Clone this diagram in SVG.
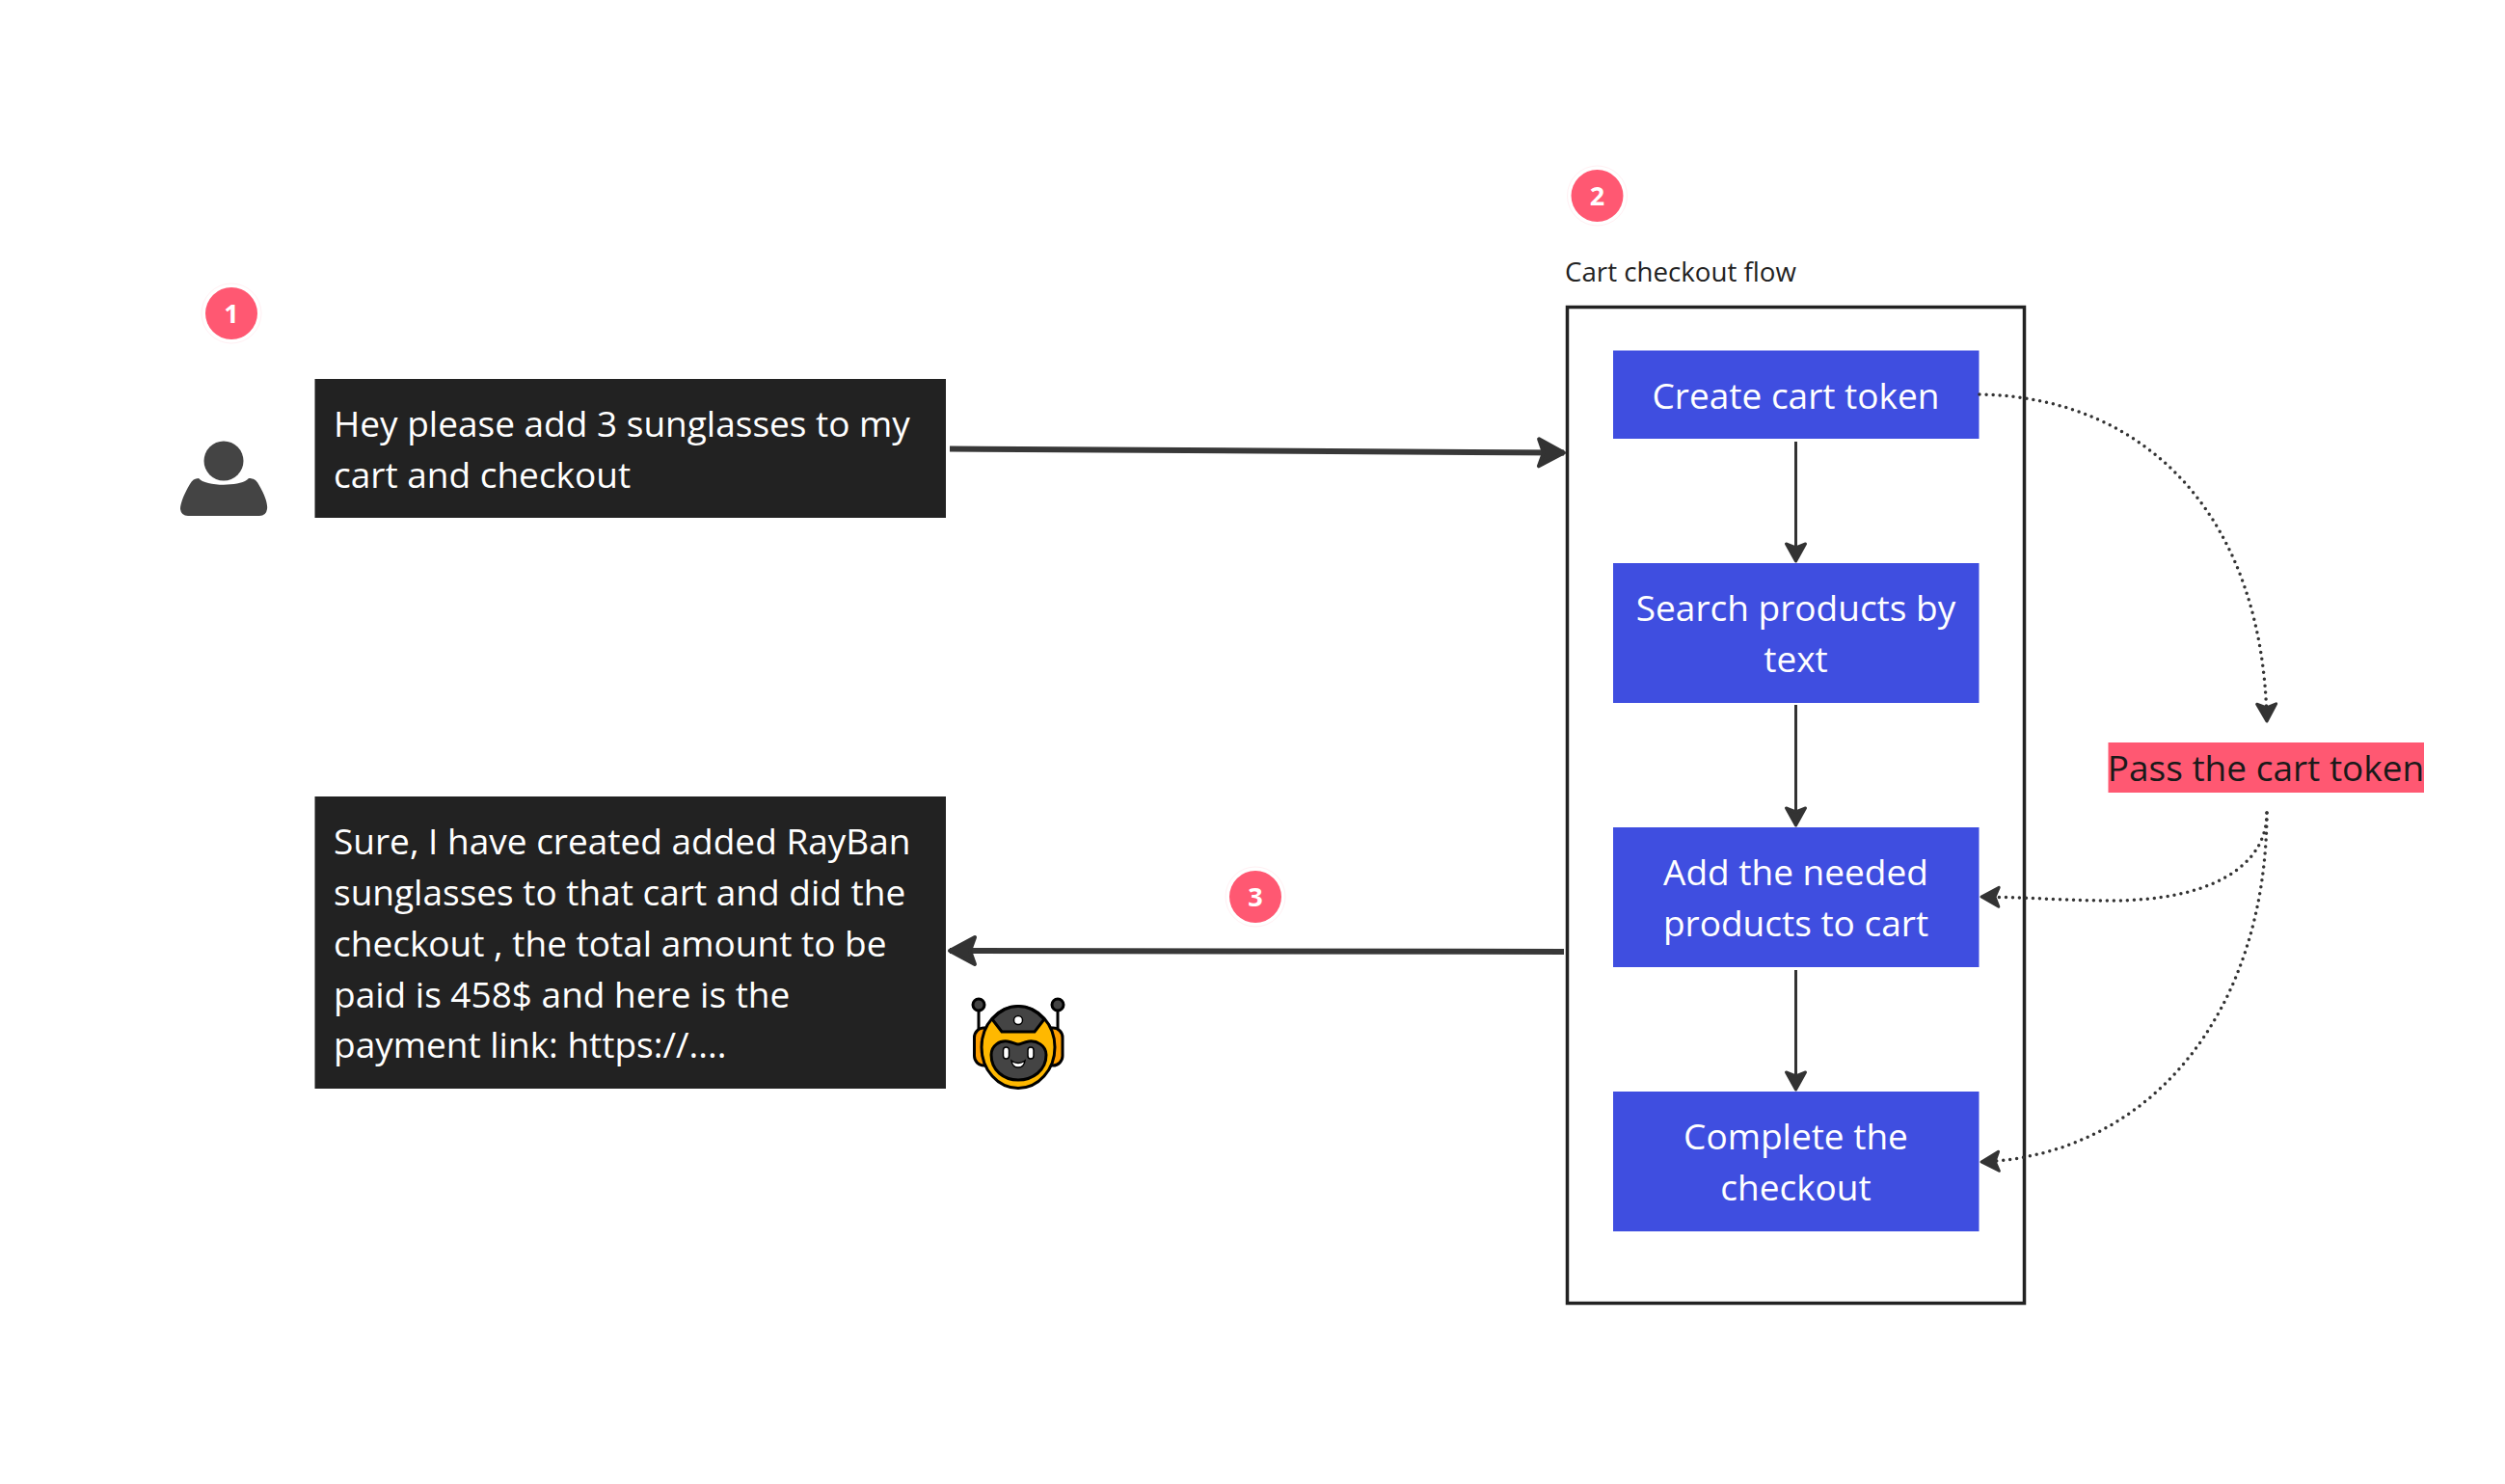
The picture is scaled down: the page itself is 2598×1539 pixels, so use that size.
<svg xmlns="http://www.w3.org/2000/svg" width="2598" height="1539" viewBox="0 0 2598 1539">
<style>
text{font-family:"Open Sans","Noto Sans","Liberation Sans",sans-serif}
.t{font-size:37px;fill:#fff}
.dark{fill:#222222}
.blue{fill:#3f4ee0}
.c{text-anchor:middle}
.badge-ring{fill:#fff;stroke:#fff0f3;stroke-width:1}
.badge{fill:#ff5872}
.num{font-size:27px;font-weight:700;fill:#fff;text-anchor:middle}
.main{fill:none;stroke:#383838;stroke-width:6}
.thin{fill:none;stroke:#333;stroke-width:3}
.dot{fill:none;stroke:#333;stroke-width:3.5;stroke-linecap:round;stroke-dasharray:0 7}
.ol{stroke:#000;stroke-width:3}
</style>
<defs>
<marker id="big" markerUnits="userSpaceOnUse" markerWidth="40" markerHeight="44" viewBox="-34 -22 40 44" refX="0" refY="0" orient="auto"><path d="M-26,-14 L0,0 L-26,14 L-21,0Z" fill="#333" stroke="#333" stroke-width="4" stroke-linejoin="round"/></marker>
<marker id="small" markerUnits="userSpaceOnUse" markerWidth="32" markerHeight="32" viewBox="-26 -16 32 32" refX="0" refY="0" orient="auto"><path d="M-18,-10 L0,0 L-18,10 L-14,0Z" fill="#333" stroke="#333" stroke-width="3" stroke-linejoin="round"/></marker>
</defs>
<rect width="2598" height="1539" fill="#fff"/>
<g id="badge1"><circle class="badge-ring" cx="240" cy="325" r="31"/><circle class="badge" cx="240" cy="325" r="27"/><text class="num" x="240" y="335">1</text></g>
<g id="user"><circle cx="232" cy="478" r="20.5" fill="#444"/><path d="M206 496 C213 505 251 505 258 496 C263 496 266 498 268 502 C274 512 278 522 277 528 Q276 535 269 535 L195 535 Q188 535 187 528 C187 522 191 512 197 502 C199 498 202 496 206 496Z" fill="#444"/></g>
<g id="user-message"><rect class="dark" x="326.500" y="393" width="654.500" height="144"/><text class="t" x="346" y="453">Hey please add 3 sunglasses to my</text><text class="t" x="346" y="506">cart and checkout</text></g>
<g id="badge2"><circle class="badge-ring" cx="1656.5" cy="203" r="31"/><circle class="badge" cx="1656.5" cy="203" r="27"/><text class="num" x="1656.5" y="213">2</text></g>
<g id="flow-frame"><text x="1623" y="292" font-size="27.7" fill="#222">Cart checkout flow</text><rect x="1625.5" y="318.500" width="474" height="1033" fill="none" stroke="#222" stroke-width="3.500"/></g>
<g id="create-token"><rect class="blue" x="1673" y="363.500" width="379.500" height="91.500"/><text class="t c" x="1862.5" y="424">Create cart token</text></g>
<g id="search"><rect class="blue" x="1673" y="584" width="379.500" height="145"/><text class="t c" x="1862.5" y="644">Search products by</text><text class="t c" x="1862.5" y="697">text</text></g>
<g id="add"><rect class="blue" x="1673" y="858" width="379.500" height="145"/><text class="t c" x="1862.5" y="918">Add the needed</text><text class="t c" x="1862.5" y="971">products to cart</text></g>
<g id="complete"><rect class="blue" x="1673" y="1132" width="379.500" height="145"/><text class="t c" x="1862.5" y="1192">Complete the</text><text class="t c" x="1862.5" y="1245">checkout</text></g>
<g id="pass-token"><rect x="2186.500" y="770" width="327.500" height="52" fill="#ff5872"/><text x="2350" y="810" font-size="37" fill="#1a1a1a" text-anchor="middle">Pass the cart token</text></g>
<g id="badge3"><circle class="badge-ring" cx="1302" cy="930" r="31"/><circle class="badge" cx="1302" cy="930" r="27"/><text class="num" x="1302" y="940">3</text></g>
<g id="bot-message"><rect class="dark" x="326.500" y="826" width="654.500" height="303"/>
<text class="t" x="346" y="886">Sure, I have created added RayBan</text>
<text class="t" x="346" y="939">sunglasses to that cart and did the</text>
<text class="t" x="346" y="992">checkout , the total amount to be</text>
<text class="t" x="346" y="1045">paid is 458$ and here is the</text>
<text class="t" x="346" y="1097">payment link: https://....</text></g>
<g id="robot">
<path class="ol" d="M1015 1048 V1075 M1097 1048 V1075" fill="none" stroke-width="2.500"/>
<circle class="ol" cx="1015" cy="1042" r="6" fill="#444" stroke-width="2"/><circle class="ol" cx="1097" cy="1042" r="6" fill="#444" stroke-width="2"/>
<rect class="ol" x="1010.500" y="1066" width="22" height="39" rx="10" fill="#ff9f00"/>
<rect class="ol" x="1080" y="1066" width="22" height="39" rx="10" fill="#ff9f00"/>
<ellipse class="ol" cx="1056" cy="1086" rx="38" ry="42.500" fill="#ffb800"/>
<path class="ol" d="M1029 1057 C1037 1048 1046 1043.500 1056 1043.500 C1066 1043.500 1075 1048 1083 1057 L1073 1070 H1039Z" fill="#444"/>
<circle cx="1056" cy="1058" r="4.500" fill="#fff" stroke="#000" stroke-width="1.500"/>
<path class="ol" d="M1028 1094 C1028 1084 1037 1079 1045 1080 C1051 1081 1053 1083 1056 1083 C1059 1083 1061 1081 1067 1080 C1075 1079 1085 1084 1085 1094 C1085 1110 1071 1120 1056 1120 C1041 1120 1028 1110 1028 1094Z" fill="#444"/>
<rect x="1040.500" y="1086" width="6" height="12" rx="3" fill="#fff" stroke="#000" stroke-width="1.500"/><rect x="1066" y="1086" width="6" height="12" rx="3" fill="#fff" stroke="#000" stroke-width="1.500"/>
<path d="M1049 1100 Q1056 1105 1063 1100 Q1062 1107 1056 1107 Q1050 1107 1049 1100Z" fill="#fff" stroke="#000" stroke-width="1.500"/>
</g>
<g id="connectors">
<path class="main" d="M985 465.500 L1622 469.500" marker-end="url(#big)"/>
<path class="main" d="M1622 987 L985 986" marker-end="url(#big)"/>
<path class="thin" d="M1862.5 458 V582" marker-end="url(#small)"/>
<path class="thin" d="M1862.5 731 V856" marker-end="url(#small)"/>
<path class="thin" d="M1862.5 1006 V1130" marker-end="url(#small)"/>
<path class="dot" d="M2053 409 C2230 412 2347 540 2351 748" marker-end="url(#small)"/>
<path class="dot" d="M2351 843 C2351 900 2290 934 2190 934 C2150 934 2110 931 2055 930" marker-end="url(#small)"/>
<path class="dot" d="M2351 843 C2350 1050 2230 1198 2055 1205" marker-end="url(#small)"/>
</g>
</svg>
